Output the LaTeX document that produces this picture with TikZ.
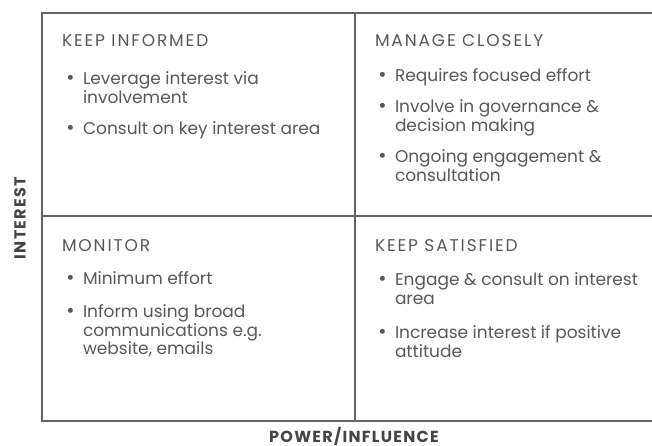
\documentclass[tikz,border=0pt]{standalone}
\usepackage{fontspec}
\setmainfont{Poppins}
\usetikzlibrary{positioning}

\definecolor{gridgray}{HTML}{636363}
\definecolor{txtgray}{HTML}{585858}
\definecolor{axisgray}{HTML}{454545}
\newcommand{\bul}{\llap{{\fontsize{20}{20}\selectfont\textbullet}\hspace{8.5pt}}}
% stacked lines, baseline on the first one
\newcommand{\lines}[1]{\begin{tabular}[t]{@{}l@{}}#1\end{tabular}}

\begin{document}
\begin{tikzpicture}[
  x=1pt,y=1pt,
  every node/.style={inner sep=0pt,outer sep=0pt},
  head/.style ={anchor=base west,text=txtgray,
                font=\fontsize{17}{18.5}\selectfont\addfontfeatures{LetterSpace=11}},
  item/.style ={anchor=base west,text=txtgray,
                font=\fontsize{17}{18.5}\selectfont},
  axis/.style ={text=axisgray,
                font=\bfseries\fontsize{16}{18}\selectfont\addfontfeatures{LetterSpace=8}},
  grid/.style ={draw=gridgray,line width=2pt}]

  \useasboundingbox (0,0) rectangle (652,446);

  % ===== GRID: open on the right =====
  \coordinate (tl) at (42,433);
  \coordinate (tr) at (652,433);
  \coordinate (bl) at (42,25);
  \coordinate (br) at (652,25);
  \coordinate (mt) at (355,433);
  \coordinate (mb) at (355,25);
  \coordinate (ml) at (42,230);
  \coordinate (mr) at (652,230);
  \draw[grid] (tr) -- (tl) -- (bl) -- (br);
  \draw[grid] (mt) -- (mb);
  \draw[grid] (ml) -- (mr);

  % ===== TOP LEFT =====
  \node[head] (kih) at (62,399) {KEEP INFORMED};
  \node[item] (ki1) at (83,361) {\lines{\bul Leverage interest via\\involvement}};
  \node[item] (ki2) at (83,311) {\lines{\bul Consult on key interest area}};

  % ===== TOP RIGHT =====
  \node[head] (mch) at (375,399) {MANAGE CLOSELY};
  \node[item] (mc1) at (395,364) {\lines{\bul Requires focused effort}};
  \node[item] (mc2) at (395,333) {\lines{\bul Involve in governance \&\\decision making}};
  \node[item] (mc3) at (395,283) {\lines{\bul Ongoing engagement \&\\consultation}};

  % ===== BOTTOM LEFT =====
  \node[head] (moh) at (62,194) {MONITOR};
  \node[item] (mo1) at (83,161) {\lines{\bul Minimum effort}};
  \node[item] (mo2) at (83,128) {\lines{\bul Inform using broad\\communications e.g.\\website, emails}};

  % ===== BOTTOM RIGHT =====
  \node[head] (ksh) at (375,194) {KEEP SATISFIED};
  \node[item] (ks1) at (395,160) {\lines{\bul Engage \& consult on interest\\area}};
  \node[item] (ks2) at (395,107) {\lines{\bul Increase interest if positive\\attitude}};

  % ===== AXES =====
  \node[axis,rotate=90] (yax) at (20,228) {INTEREST};
  \node[axis,anchor=base] (xax) at (354,3) {POWER/INFLUENCE};

\end{tikzpicture}
\end{document}
